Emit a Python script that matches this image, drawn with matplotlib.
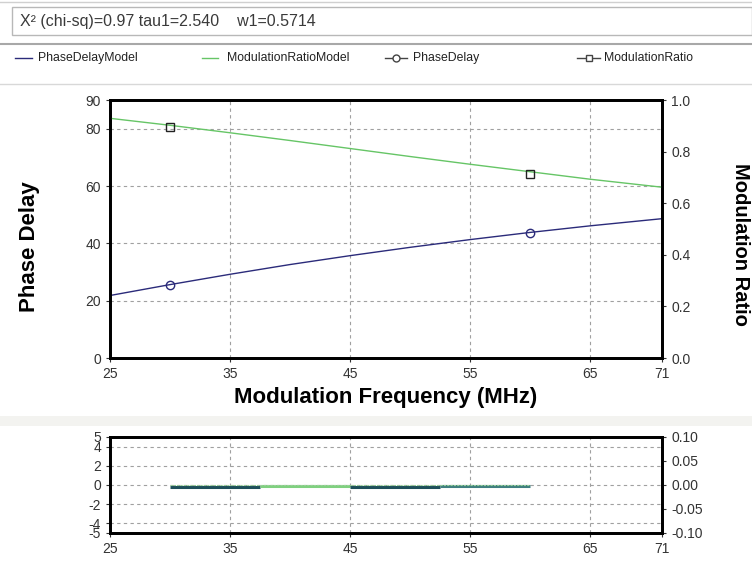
import matplotlib
matplotlib.use("Agg")
import matplotlib.pyplot as plt
from matplotlib.lines import Line2D
from matplotlib.patches import Rectangle

plt.rcParams['font.family'] = ['Liberation Sans', 'DejaVu Sans']
plt.rcParams['axes.unicode_minus'] = False

# ---- data ----
model_freq = [25, 30, 35, 40, 45, 50, 55, 60, 65, 71]
phase_model = [21.8, 25.6, 29.2, 32.6, 35.7, 38.6, 41.3, 43.8, 46.1, 48.6]
modratio_model = [0.929, 0.902, 0.873, 0.843, 0.812, 0.781, 0.751, 0.722, 0.693, 0.662]

meas_freq = [30, 60]
phase_delay = [25.5, 43.6]
mod_ratio = [0.897, 0.714]

# residual segments (frequency edges and values)
resid_edges = [30, 37.5, 45, 52.5, 60]
resid_phase = [-0.2, -0.15, -0.2, -0.1]
resid_colors = ['#1d4f5a', '#7fd07f', '#1d4f5a', '#3f7f7f']

x_ticks = [25, 35, 45, 55, 65, 71]
left_ticks = [0, 20, 40, 60, 80, 90]
right_ticks = [0.0, 0.2, 0.4, 0.6, 0.8, 1.0]
res_left_ticks = [-5, -4, -2, 0, 2, 4, 5]
res_right_ticks = [-0.10, -0.05, 0.00, 0.05, 0.10]

header = "X\u00b2 (chi-sq)=0.97 tau1=2.540    w1=0.5714"

navy = '#2b2b7a'
green = '#66c566'
tick_col = '#333333'
grid_kw = dict(color='#a0a0a0', linestyle=(0, (3, 3)), linewidth=0.8)

W, H = 752, 565
fig = plt.figure(figsize=(W / 100, H / 100), dpi=100)
fig.patch.set_facecolor('white')

def fx(px):
    return px / W

def fy(py):
    return 1 - py / H

# header decorations
fig.add_artist(Line2D([0, 1], [fy(2), fy(2)], color='#d0d0d0', lw=1))
fig.add_artist(Rectangle((fx(12), fy(35)), fx(752) - fx(12), fy(7) - fy(35),
                         facecolor='white', edgecolor='#b8b8b8', lw=1))
fig.text(fx(20), fy(21.5), header, fontsize=11.5, color='#3a3a3a', va='center', ha='left')
fig.add_artist(Line2D([0, 1], [fy(44), fy(44)], color='#a8a8a8', lw=1.5))

# legend row
ly = fy(58)
leg = [
    (15, 32, 38, navy, None, 'PhaseDelayModel'),
    (202, 218, 227, green, None, 'ModulationRatioModel'),
    (385, 407, 413, '#444444', 'o', 'PhaseDelay'),
    (577, 600, 604, '#444444', 's', 'ModulationRatio'),
]
for x0, x1, xt, c, m, lab in leg:
    fig.add_artist(Line2D([fx(x0), fx(x1)], [ly, ly], color=c, lw=1))
    if m:
        fig.add_artist(Line2D([fx((x0 + x1) / 2)], [ly], marker=m, markersize=5,
                              markerfacecolor='white', markeredgecolor=c, lw=0))
    fig.text(fx(xt), ly, lab, fontsize=8.8, color='#222222', va='center', ha='left')

fig.add_artist(Line2D([0, 1], [fy(84), fy(84)], color='#d8d8d8', lw=1))
fig.add_artist(Rectangle((0, fy(426)), 1, fy(416) - fy(426), facecolor='#f3f3f0',
                         edgecolor='none'))

# ---- main axes ----
ax = fig.add_axes([fx(110), fy(358), fx(662) - fx(110), fy(100) - fy(358)])
ax.plot(model_freq, phase_model, color=navy, lw=1)
ax.plot(meas_freq, phase_delay, linestyle='none', marker='o', markersize=6,
        markerfacecolor='none', markeredgecolor=navy, markeredgewidth=1)
ax.set_xlim(25, 71)
ax.set_ylim(0, 90)
ax.set_xticks(x_ticks)
ax.set_yticks(left_ticks)
for v in [35, 45, 55, 65]:
    ax.axvline(v, **grid_kw, zorder=0)
for v in [20, 40, 60, 80]:
    ax.axhline(v, **grid_kw, zorder=0)
ax.tick_params(labelsize=10, length=3, colors=tick_col)
ax.set_ylabel('Phase Delay', fontsize=16, fontweight='bold', va='center')
ax.yaxis.set_label_coords(-0.145, 0.43)
ax.set_xlabel('Modulation Frequency (MHz)', fontsize=16, fontweight='bold', labelpad=4)
for s in ax.spines.values():
    s.set_linewidth(2)

ax2 = ax.twinx()
ax2.plot(model_freq, modratio_model, color=green, lw=1)
ax2.plot(meas_freq, mod_ratio, linestyle='none', marker='s', markersize=6,
         markerfacecolor='none', markeredgecolor='#222222', markeredgewidth=1)
ax2.set_ylim(0, 1.0)
ax2.set_yticks(right_ticks)
ax2.set_yticklabels([f'{v:.1f}' for v in right_ticks])
ax2.tick_params(labelsize=10, length=3, colors=tick_col)
ax2.set_ylabel('Modulation Ratio', fontsize=14.5, fontweight='bold', rotation=-90,
               va='center')
ax2.yaxis.set_label_coords(1.143, 0.44)
for s in ax2.spines.values():
    s.set_linewidth(2)

# ---- residual axes ----
rx = fig.add_axes([fx(110), fy(533), fx(662) - fx(110), fy(437) - fy(533)])
for i in range(len(resid_phase)):
    rx.plot([resid_edges[i], resid_edges[i + 1]], [resid_phase[i], resid_phase[i]],
            color=resid_colors[i], lw=2.2, solid_capstyle='butt')
rx.plot([resid_edges[0], resid_edges[-1]], [0, 0], color='#9ad09a', lw=0.8,
        linestyle=(0, (2, 1)))
rx.set_xlim(25, 71)
rx.set_ylim(-5, 5)
rx.set_xticks(x_ticks)
rx.set_yticks(res_left_ticks)
for v in [35, 45, 55, 65]:
    rx.axvline(v, **grid_kw, zorder=0)
for v in [-4, -2, 0, 2, 4]:
    rx.axhline(v, **grid_kw, zorder=0)
rx.tick_params(labelsize=10, length=3, colors=tick_col)
for s in rx.spines.values():
    s.set_linewidth(2)
rx2 = rx.twinx()
rx2.set_ylim(-0.10, 0.10)
rx2.set_yticks(res_right_ticks)
rx2.set_yticklabels([f'{v:.2f}' for v in res_right_ticks])
rx2.tick_params(labelsize=10, length=3, colors=tick_col)
for s in rx2.spines.values():
    s.set_linewidth(2)

fig.savefig('out.png', dpi=100)
